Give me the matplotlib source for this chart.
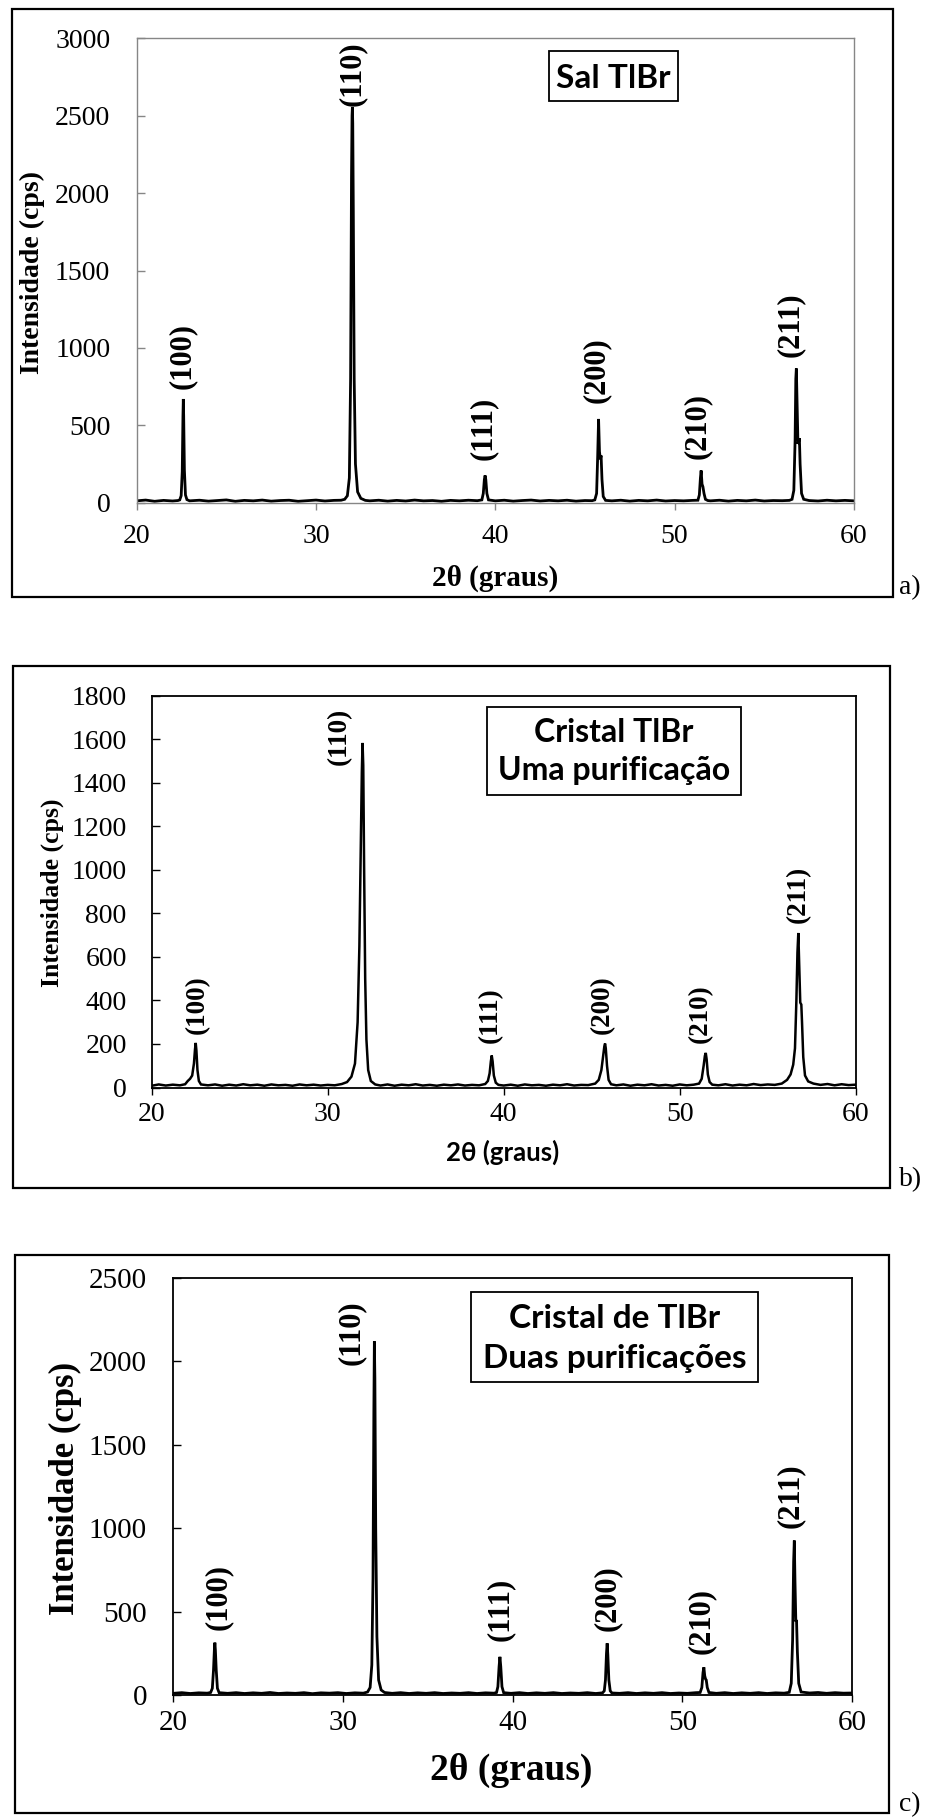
import matplotlib
matplotlib.use("Agg")
import matplotlib.pyplot as plt
from matplotlib.patches import Rectangle

plt.rcParams['font.family'] = ['Liberation Serif', 'DejaVu Serif']

# ---------------- data ----------------
x_ticks = [20, 30, 40, 50, 60]
hkl_labels = ['(100)', '(110)', '(111)', '(200)', '(210)', '(211)']

# a) Sal TlBr
profile_a = [
    (20.0, 12), (20.5, 17), (21.0, 9), (21.5, 15), (22.0, 11), (22.3, 14),
    (22.40, 18), (22.48, 45), (22.54, 200), (22.58, 560), (22.60, 670), (22.62, 560),
    (22.66, 210), (22.72, 50), (22.80, 20), (22.95, 12),
    (23.5, 16), (24.0, 10), (24.5, 14), (25.0, 18), (25.5, 9), (26.0, 15), (26.5, 12),
    (27.0, 17), (27.5, 10), (28.0, 14), (28.5, 16), (29.0, 9), (29.5, 13), (30.0, 17),
    (30.5, 11), (31.0, 15), (31.4, 16),
    (31.60, 22), (31.75, 45), (31.86, 160), (31.93, 800), (31.98, 2100), (32.01, 2500),
    (32.03, 2555), (32.05, 2450), (32.08, 1900), (32.13, 800), (32.20, 250), (32.32, 70),
    (32.50, 28), (32.75, 15),
    (33.0, 12), (33.5, 16), (34.0, 10), (34.5, 15), (35.0, 11), (35.5, 17), (36.0, 12),
    (36.5, 14), (37.0, 9), (37.5, 15), (38.0, 12), (38.5, 16), (39.0, 13),
    (39.25, 18), (39.33, 60), (39.39, 150), (39.43, 176), (39.47, 150), (39.53, 60), (39.62, 18),
    (40.0, 12), (40.5, 16), (41.0, 10), (41.5, 14), (42.0, 17), (42.5, 11), (43.0, 15),
    (43.5, 12), (44.0, 16), (44.5, 10), (45.0, 14), (45.4, 13),
    (45.55, 18), (45.65, 60), (45.71, 300), (45.76, 541), (45.81, 330), (45.86, 280),
    (45.90, 305), (45.95, 150), (46.02, 40), (46.15, 15),
    (46.5, 12), (47.0, 16), (47.5, 10), (48.0, 15), (48.5, 12), (49.0, 17), (49.5, 11),
    (50.0, 14), (50.5, 12), (51.0, 15),
    (51.30, 16), (51.38, 50), (51.44, 160), (51.48, 208), (51.53, 120), (51.58, 103),
    (51.64, 60), (51.72, 22), (51.85, 14),
    (52.0, 12), (52.5, 16), (53.0, 10), (53.5, 15), (54.0, 12), (54.5, 17), (55.0, 11),
    (55.5, 14), (56.0, 13), (56.4, 15),
    (56.55, 22), (56.65, 80), (56.72, 400), (56.76, 800), (56.79, 867), (56.83, 650),
    (56.88, 380), (56.93, 400), (56.96, 417), (57.00, 250), (57.08, 60), (57.20, 22),
    (57.5, 14), (58.0, 11), (58.5, 16), (59.0, 12), (59.5, 15), (60.0, 12),
]
peak_pos_a = [22.60, 32.03, 39.43, 45.76, 51.48, 56.79]
peak_int_a = [670, 2555, 176, 541, 208, 867]

# b) Cristal TlBr - uma purificacao
profile_b = [
    (20.0, 8), (20.4, 14), (20.8, 9), (21.2, 13), (21.6, 10), (21.9, 15), (22.05, 30),
    (22.18, 40), (22.3, 55), (22.4, 110), (22.46, 175), (22.5, 205), (22.54, 170),
    (22.6, 80), (22.68, 30), (22.8, 14),
    (23.2, 10), (23.6, 14), (24.0, 8), (24.4, 13), (24.8, 9), (25.2, 15), (25.6, 10),
    (26.0, 13), (26.4, 8), (26.8, 14), (27.2, 10), (27.6, 12), (28.0, 8), (28.4, 14),
    (28.8, 10), (29.2, 13), (29.6, 9), (30.0, 12), (30.4, 10), (30.8, 16),
    (31.1, 25), (31.35, 50), (31.55, 110), (31.7, 300), (31.8, 650), (31.88, 1100),
    (31.94, 1450), (31.98, 1583), (32.02, 1480), (32.07, 1000), (32.13, 500), (32.2, 220),
    (32.3, 80), (32.45, 30), (32.7, 14),
    (33.0, 9), (33.4, 14), (33.8, 8), (34.2, 13), (34.6, 10), (35.0, 15), (35.4, 9),
    (35.8, 12), (36.2, 8), (36.6, 13), (37.0, 10), (37.4, 14), (37.8, 9), (38.2, 12),
    (38.6, 10), (38.95, 16),
    (39.1, 30), (39.2, 65), (39.27, 120), (39.32, 147), (39.37, 120), (39.44, 55),
    (39.55, 22), (39.7, 12),
    (40.0, 9), (40.4, 13), (40.8, 8), (41.2, 14), (41.6, 10), (42.0, 12), (42.4, 8),
    (42.8, 13), (43.2, 10), (43.6, 15), (44.0, 9), (44.4, 12), (44.8, 11), (45.2, 18),
    (45.4, 35), (45.55, 80), (45.66, 150), (45.72, 190), (45.76, 202), (45.8, 180),
    (45.87, 100), (45.96, 35), (46.1, 15),
    (46.4, 10), (46.8, 14), (47.2, 8), (47.6, 13), (48.0, 10), (48.4, 15), (48.8, 9),
    (49.2, 12), (49.6, 8), (50.0, 14), (50.4, 10), (50.8, 13),
    (51.1, 18), (51.25, 40), (51.36, 100), (51.43, 145), (51.48, 159), (51.53, 130),
    (51.6, 60), (51.7, 25), (51.85, 13),
    (52.2, 10), (52.6, 15), (53.0, 9), (53.4, 13), (53.8, 10), (54.2, 16), (54.6, 11),
    (55.0, 14), (55.4, 12), (55.8, 18),
    (56.1, 35), (56.3, 60), (56.45, 105), (56.55, 180), (56.63, 400), (56.69, 620),
    (56.74, 710), (56.79, 560), (56.85, 390), (56.91, 381), (56.95, 300), (57.02, 140),
    (57.12, 55), (57.3, 28), (57.6, 18),
    (58.0, 12), (58.4, 16), (58.8, 10), (59.2, 15), (59.6, 11), (60.0, 13),
]
peak_pos_b = [22.50, 31.98, 39.32, 45.76, 51.48, 56.74]
peak_int_b = [205, 1583, 147, 202, 159, 710]

# c) Cristal de TlBr - duas purificacoes
profile_c = [
    (20.0, 10), (20.5, 14), (21.0, 9), (21.5, 13), (22.0, 11), (22.2, 15),
    (22.3, 40), (22.37, 150), (22.42, 270), (22.45, 314), (22.48, 270), (22.53, 150),
    (22.6, 40), (22.7, 14),
    (23.2, 10), (23.7, 14), (24.2, 9), (24.7, 13), (25.2, 10), (25.7, 15), (26.2, 9),
    (26.7, 12), (27.2, 10), (27.7, 14), (28.2, 8), (28.7, 13), (29.2, 11), (29.7, 14),
    (30.2, 9), (30.7, 13), (31.2, 11),
    (31.45, 18), (31.6, 45), (31.7, 180), (31.77, 700), (31.82, 1700), (31.85, 2120),
    (31.88, 1900), (31.93, 1000), (32.0, 350), (32.1, 90), (32.25, 30), (32.45, 15),
    (32.9, 10), (33.4, 14), (33.9, 9), (34.4, 13), (34.9, 10), (35.4, 14), (35.9, 9),
    (36.4, 12), (36.9, 10), (37.4, 14), (37.9, 9), (38.4, 13), (38.9, 11),
    (39.05, 15), (39.13, 50), (39.2, 170), (39.25, 229), (39.3, 170), (39.37, 50),
    (39.47, 14),
    (39.9, 10), (40.4, 14), (40.9, 9), (41.4, 13), (41.9, 10), (42.4, 14), (42.9, 9),
    (43.4, 12), (43.9, 10), (44.4, 14), (44.9, 9), (45.3, 13),
    (45.4, 25), (45.47, 90), (45.53, 250), (45.57, 310), (45.61, 240), (45.67, 90),
    (45.75, 25), (45.85, 12),
    (46.3, 10), (46.8, 14), (47.3, 9), (47.8, 13), (48.3, 10), (48.8, 14), (49.3, 9),
    (49.8, 12), (50.3, 10), (50.8, 14),
    (51.05, 15), (51.15, 45), (51.22, 135), (51.27, 166), (51.32, 115), (51.37, 95),
    (51.41, 90), (51.47, 45), (51.57, 15),
    (52.0, 10), (52.5, 14), (53.0, 9), (53.5, 13), (54.0, 10), (54.5, 14), (55.0, 9),
    (55.5, 13), (56.0, 11),
    (56.3, 16), (56.42, 70), (56.5, 330), (56.56, 800), (56.6, 926), (56.64, 680),
    (56.69, 440), (56.73, 450), (56.78, 260), (56.86, 70), (57.0, 18),
    (57.5, 12), (58.0, 15), (58.5, 10), (59.0, 14), (59.5, 11), (60.0, 12),
]
peak_pos_c = [22.45, 31.85, 39.25, 45.57, 51.27, 56.60]
peak_int_c = [314, 2120, 229, 310, 166, 926]

titles_a = ['Sal TlBr']
titles_b = ['Cristal TlBr', 'Uma purificação']
titles_c = ['Cristal de TlBr', 'Duas purificações']

y_label = 'Intensidade (cps)'
x_label = '2θ (graus)'

# ---------------- layout (pixels) ----------------
W, H = 925, 1818
fig = plt.figure(figsize=(W / 100, H / 100), dpi=100)


def fx(x):
    return x / W


def fy(y):
    return 1 - y / H


def add_axes(l, t, r, b):
    return fig.add_axes([fx(l), fy(b), (r - l) / W, (b - t) / H])


def frame(l, t, r, b, lw=1.6):
    fig.patches.append(Rectangle((fx(l), fy(b)), (r - l) / W, (b - t) / H,
                                 transform=fig.transFigure, fill=False,
                                 edgecolor='black', linewidth=lw, zorder=0))


panels = [
    dict(prof=profile_a, pos=peak_pos_a, inten=peak_int_a, box=(12, 9, 893, 597),
         ax=(136.7, 38.3, 853.9, 502.7), ymax=3000, ystep=500, spine='#868686',
         lw=2.0, tick_fs=20, ypad=19, xpad=10.5, lab_fs=22,
         offsets=[(-1, 10), (0, 1), (-2, 15), (-2, 16), (-4, 12), (-6, 11)],
         special110=False,
         ylab=(32, 272, 20), xlab=(495, 578, 21, 'serif'),
         tbox=(549, 51, 678, 101), tlines=[(614, 88.5)], tfs=24, tag='a)', tag_y=600),
    dict(prof=profile_b, pos=peak_pos_b, inten=peak_int_b, box=(13, 666, 890, 1188),
         ax=(151.7, 695.7, 855.7, 1087.5), ymax=1800, ystep=200, spine='black',
         lw=1.8, tick_fs=20, ypad=18, xpad=5.7, lab_fs=19.5,
         offsets=[(2, 9), (-23, 7), (-1, 13), (-3, 10), (-5, 10), (0, 10)],
         special110=True,
         ylab=(52, 893, 18.5), xlab=(503, 1152, 18.5, 'sans'),
         tbox=(487, 707, 741, 795), tlines=[(614, 742), (614, 780)], tfs=23, tag='b)', tag_y=1192),
    dict(prof=profile_c, pos=peak_pos_c, inten=peak_int_c, box=(15, 1255, 889, 1813),
         ax=(173.3, 1278, 852, 1695), ymax=2500, ystep=500, spine='black',
         lw=2.0, tick_fs=21, ypad=19, xpad=5.5, lab_fs=22,
         offsets=[(3, 13), (-23, 9), (0, 16), (0, 12), (-3, 13), (-4, 13)],
         special110=True,
         ylab=(65, 1488, 25), xlab=(511, 1770, 27, 'serif'),
         tbox=(471, 1292, 758, 1382), tlines=[(614, 1328), (614, 1368)], tfs=24, tag='c)', tag_y=1817),
]
titles = [titles_a, titles_b, titles_c]

for p, tl in zip(panels, titles):
    frame(*p['box'])
    ax = add_axes(*p['ax'])
    xs = [q[0] for q in p['prof']]
    ys = [q[1] for q in p['prof']]
    ax.plot(xs, ys, color='black', lw=p['lw'], solid_joinstyle='miter')
    ax.set_xlim(20, 60)
    ax.set_ylim(0, p['ymax'])
    ax.set_xticks(x_ticks)
    ax.set_yticks(list(range(0, p['ymax'] + 1, p['ystep'])))
    for s in ax.spines.values():
        s.set_color(p['spine'])
        s.set_linewidth(1.0 if p['spine'] != 'black' else 1.3)
    ax.tick_params(axis='y', direction='in', length=6, width=1.0, color=p['spine'],
                   pad=p['ypad'], labelsize=p['tick_fs'])
    ax.tick_params(axis='x', direction='out', length=5, width=1.0, color=p['spine'],
                   pad=p['xpad'], labelsize=p['tick_fs'])

    # peak labels
    for i, (lab, xp, yp) in enumerate(zip(hkl_labels, p['pos'], p['inten'])):
        dx, dy = p['offsets'][i]
        if lab == '(110)' and p['special110']:
            va = 'center'
        else:
            va = 'bottom'
        ax.annotate(lab, xy=(xp, yp), xytext=(dx, dy), textcoords='offset pixels',
                    rotation=90, ha='center', va=va, fontsize=p['lab_fs'],
                    fontweight='bold', annotation_clip=False)

    # axis labels
    yx, yy, yfs = p['ylab']
    fig.text(fx(yx), fy(yy), y_label, rotation=90, ha='center', va='center',
             fontsize=yfs, fontweight='bold')
    xx, xy_, xfs, fam = p['xlab']
    if fam == 'sans':
        fig.text(fx(xx), fy(xy_), x_label, ha='center', va='center', fontsize=xfs,
                 fontweight='bold', family=['Lato', 'DejaVu Sans'])
    else:
        fig.text(fx(xx), fy(xy_), x_label, ha='center', va='center', fontsize=xfs,
                 fontweight='bold')

    # title box
    l, t, r, b = p['tbox']
    frame(l, t, r, b, lw=1.3)
    cx = (l + r) / 2
    for (tx, ty), line in zip(p['tlines'], tl):
        fig.text(fx(cx), fy(ty), line, ha='center', va='baseline', fontsize=p['tfs'],
                 fontweight='bold', family=['Lato', 'DejaVu Sans'])

    # panel tag
    fig.text(fx(899), fy(p['tag_y']), p['tag'], ha='left', va='bottom', fontsize=20)

fig.savefig('out.png', dpi=100, facecolor='white')
